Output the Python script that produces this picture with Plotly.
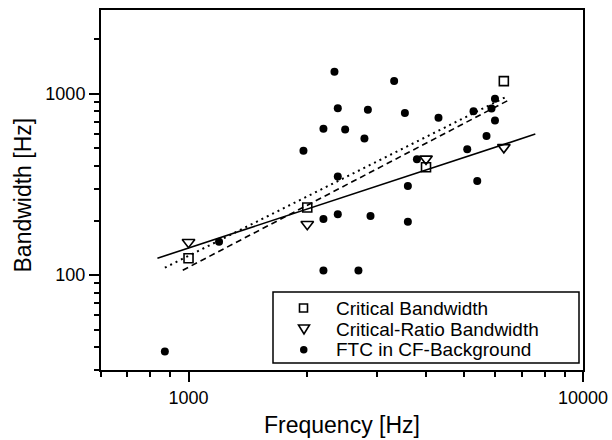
import math
import plotly.graph_objects as go

# ---- data ----
cb_freq = [1000, 2000, 4000, 6300]
cb_bw = [124, 236, 394, 1176]

cr_freq = [1000, 2000, 4000, 6300]
cr_bw = [152, 191, 438, 507]

ftc_freq = [871, 1195, 1956, 2198, 2344, 2390, 2495, 2390, 2198, 2390, 2198, 2696,
            2792, 2849, 2893, 3321, 3536, 3598, 3598, 3793, 4302, 5088, 5278, 5394,
            5694, 5862, 5982, 5982]
ftc_bw = [38, 153, 486, 643, 1325, 832, 635, 350, 204, 217, 106, 106,
          568, 818, 212, 1176, 784, 310, 197, 436, 739, 495, 801, 331,
          586, 829, 941, 712]

fit_solid_freq = [834, 7570]
fit_solid_bw = [124, 600]
fit_dashed_freq = [967, 6540]
fit_dashed_bw = [106.5, 933]
fit_dotted_freq = [871, 6350]
fit_dotted_bw = [110, 957]

x_major = [1000, 10000]
x_minor = [600, 700, 800, 900, 2000, 3000, 4000, 5000, 6000, 7000, 8000, 9000]
y_major = [100, 1000]
y_minor = [30, 40, 50, 60, 70, 80, 90, 200, 300, 400, 500, 600, 700, 800, 900, 2000]

legend_labels = ["Critical Bandwidth", "Critical-Ratio Bandwidth", "FTC in CF-Background"]

FONT = "Liberation Sans, Arial, Helvetica, sans-serif"

# plot-area geometry (pixels)
W, H = 612, 440
ML, MR, MT, MB = 101, 29, 10, 70
PW, PH = W - ML - MR, H - MT - MB


def px2x(px):
    return (px - ML) / PW


def py2y(py):
    return (H - MB - py) / PH


fig = go.Figure()

fig.add_trace(go.Scatter(x=fit_solid_freq, y=fit_solid_bw, mode="lines",
                         line=dict(color="black", width=1.6), showlegend=False, hoverinfo="skip"))
fig.add_trace(go.Scatter(x=fit_dashed_freq, y=fit_dashed_bw, mode="lines",
                         line=dict(color="black", width=1.6, dash="6px,4px"), showlegend=False, hoverinfo="skip"))
fig.add_trace(go.Scatter(x=fit_dotted_freq, y=fit_dotted_bw, mode="lines",
                         line=dict(color="black", width=2, dash="2px,4px"), showlegend=False, hoverinfo="skip"))

fig.add_trace(go.Scatter(x=cb_freq, y=cb_bw, mode="markers", name=legend_labels[0], showlegend=False,
                         marker=dict(symbol="square-open", size=9, color="black", line=dict(width=1.6))))
fig.add_trace(go.Scatter(x=cr_freq, y=cr_bw, mode="markers", name=legend_labels[1], showlegend=False,
                         marker=dict(symbol="triangle-down-open", size=11, color="black", line=dict(width=1.6))))
fig.add_trace(go.Scatter(x=ftc_freq, y=ftc_bw, mode="markers", name=legend_labels[2], showlegend=False,
                         marker=dict(symbol="circle", size=8, color="black")))

axis_common = dict(showgrid=False, zeroline=False, showline=True, linecolor="black", linewidth=2,
                   mirror=True, ticks="outside", ticklen=10, tickwidth=2, tickcolor="black",
                   automargin=False,
                   tickfont=dict(family=FONT, size=18, color="black"))

fig.update_xaxes(type="log", range=[math.log10(600), 4], tickmode="array", tickvals=x_major,
                 ticktext=[str(v) for v in x_major],
                 minor=dict(tickmode="array", tickvals=x_minor, ticks="outside", ticklen=5,
                            tickwidth=1.5, tickcolor="black", showgrid=False),
                 **axis_common)
fig.update_yaxes(type="log", range=[math.log10(30), math.log10(2900)], tickmode="array", tickvals=y_major,
                 ticktext=[str(v) for v in y_major],
                 minor=dict(tickmode="array", tickvals=y_minor, ticks="outside", ticklen=5,
                            tickwidth=1.5, tickcolor="black", showgrid=False),
                 **axis_common)

annotations = [
    dict(text="Frequency [Hz]", x=0.5, y=py2y(425), xref="paper", yref="paper",
         xanchor="center", yanchor="middle", showarrow=False,
         font=dict(family=FONT, size=23, color="black")),
    dict(text="Bandwidth [Hz]", x=px2x(22.5), y=py2y(195), xref="paper", yref="paper",
         xanchor="center", yanchor="middle", showarrow=False, textangle=-90,
         font=dict(family=FONT, size=23, color="black")),
]

# legend (drawn as a framed key)
row_y = [308, 329, 349.5]
for lbl, ry in zip(legend_labels, row_y):
    annotations.append(dict(text=lbl, x=px2x(334), y=py2y(ry), xref="paper", yref="paper",
                            xanchor="left", yanchor="middle", showarrow=False,
                            font=dict(family=FONT, size=19, color="black")))

shapes = [
    dict(type="rect", xref="paper", yref="paper", x0=px2x(273), x1=px2x(579), y0=py2y(363), y1=py2y(292),
         line=dict(color="black", width=1.5), fillcolor="white", layer="above"),
    # square key
    dict(type="rect", xref="paper", yref="paper", x0=px2x(299.5), x1=px2x(307.5),
         y0=py2y(312), y1=py2y(304), line=dict(color="black", width=1.6), layer="above"),
    # triangle key
    dict(type="path", xref="paper", yref="paper",
         path="M {} {} L {} {} L {} {} Z".format(px2x(298.5), py2y(325), px2x(309.5), py2y(325),
                                                  px2x(304), py2y(334)),
         line=dict(color="black", width=1.6), layer="above"),
    # dot key
    dict(type="circle", xref="paper", yref="paper", x0=px2x(300), x1=px2x(307.5),
         y0=py2y(353.5), y1=py2y(346), line=dict(color="black", width=0), fillcolor="black", layer="above"),
]

fig.update_layout(
    width=W, height=H,
    margin=dict(l=ML, r=MR, t=MT, b=MB),
    paper_bgcolor="white", plot_bgcolor="white",
    font=dict(family=FONT, size=18, color="black"),
    showlegend=False,
    annotations=annotations,
    shapes=shapes,
)

fig.write_html("out.html",
               config={"displayModeBar": False},
               post_script="document.body.style.margin='0px';document.body.style.padding='0px';")
